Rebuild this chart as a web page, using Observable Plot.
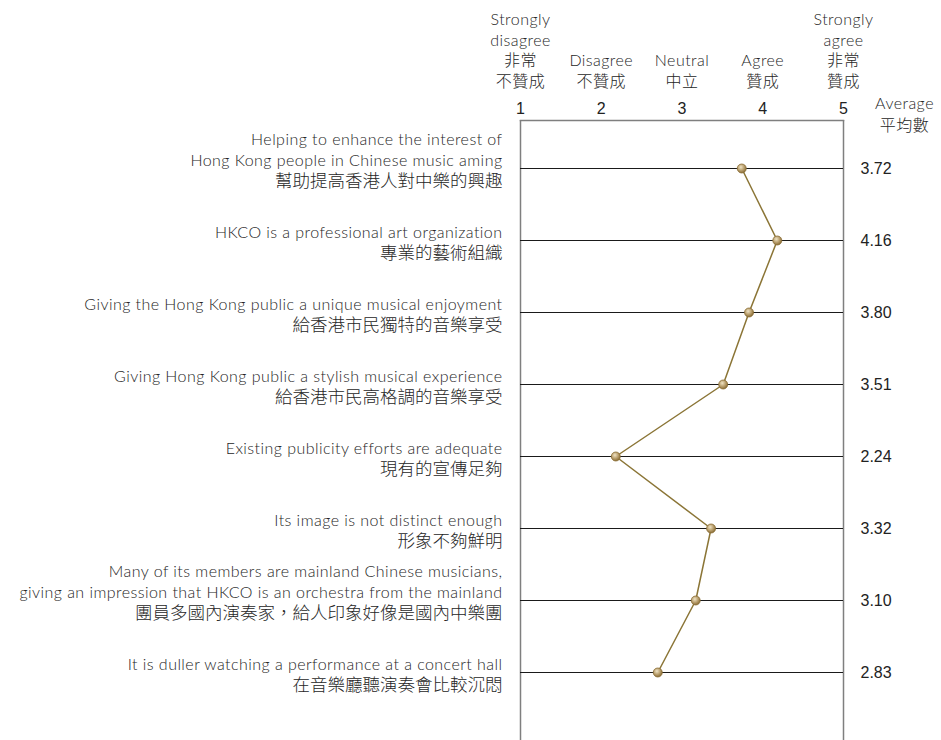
<!DOCTYPE html>
<html>
<head>
<meta charset="utf-8">
<script src="https://cdn.jsdelivr.net/npm/d3@7"></script>
<script src="https://cdn.jsdelivr.net/npm/@observablehq/plot@0.6"></script>
<style>
  html, body { margin: 0; padding: 0; background: #fff; }
  #chart svg { display: block; background: transparent; }
  #chart svg .en text, #chart svg text.en { letter-spacing: 0.45px; }
</style>
</head>
<body>
<div id="chart"></div>
<script>
// ---- data ----
const statementsEn = [
  "Helping to enhance the interest of\nHong Kong people in Chinese music aming",
  "HKCO is a professional art organization",
  "Giving the Hong Kong public a unique musical enjoyment",
  "Giving Hong Kong public a stylish musical experience",
  "Existing publicity efforts are adequate",
  "Its image is not distinct enough",
  "Many of its members are mainland Chinese musicians,\ngiving an impression that HKCO is an orchestra from the mainland",
  "It is duller watching a performance at a concert hall"
];
const statementsZh = [
  "幫助提高香港人對中樂的興趣",
  "專業的藝術組織",
  "給香港市民獨特的音樂享受",
  "給香港市民高格調的音樂享受",
  "現有的宣傳足夠",
  "形象不夠鮮明",
  "團員多國內演奏家，給人印象好像是國內中樂團",
  "在音樂廳聽演奏會比較沉悶"
];
// printed averages
const averages = [3.72, 4.16, 3.80, 3.51, 2.24, 3.32, 3.10, 2.83];
// where the markers sit on the 1–5 scale in the picture
const markerValues = [3.74, 4.18, 3.83, 3.51, 2.18, 3.36, 3.17, 2.70];

const scaleValues = [1, 2, 3, 4, 5];
const scaleEn = ["Strongly\ndisagree", "Disagree", "Neutral", "Agree", "Strongly\nagree"];
const scaleZh = ["非常\n不贊成", "不贊成", "中立", "贊成", "非常\n贊成"];
const averageEn = "Average";
const averageZh = "平均數";

// ---- tables built from the arrays ----
const rows = statementsEn.map((en, i) => ({ id: i, en, zh: statementsZh[i], avg: averages[i], pos: markerValues[i] }));
const header = scaleValues.map((v, i) => ({ v, label: scaleEn[i] + "\n" + scaleZh[i] }));

const enFont = "Lato, 'Noto Sans CJK TC', sans-serif";
const zhFont = "'Noto Sans CJK TC', 'Noto Sans CJK SC', sans-serif";
const numFont = "'Liberation Sans', Arial, sans-serif";
const textColor = "#262626";

const chart = Plot.plot({
  width: 941,
  height: 740,
  marginLeft: 520,
  marginRight: 98,
  marginTop: 120,
  marginBottom: 0,
  style: { background: "transparent", overflow: "visible" },
  x: { domain: [1, 5], axis: null },
  y: { type: "point", domain: rows.map(d => d.id), range: [167, 672], padding: 0, axis: null },
  marks: [
    // header scale labels (English + Chinese in one block)
    Plot.text(header, {
      x: "v", text: "label", frameAnchor: "top", lineAnchor: "bottom",
      dy: -34, lineHeight: 1.28, fontSize: 16, fontFamily: enFont, fontWeight: 300,
      fill: textColor, className: "en"
    }),
    // tick numbers
    Plot.text(scaleValues, {
      x: d => d, text: d => String(d), frameAnchor: "top", lineAnchor: "bottom",
      dy: -7, fontSize: 16, fontFamily: numFont, fontWeight: "normal", fill: "#222"
    }),
    // Average header
    Plot.text([averageEn + "\n" + averageZh], {
      frameAnchor: "top-right", text: d => d, dx: 61, dy: -8, lineAnchor: "middle",
      textAnchor: "middle", lineHeight: 1.38, fontSize: 16, fontFamily: enFont, fontWeight: 300,
      fill: textColor, className: "en"
    }),
    // frame
    Plot.frame({ anchor: "top", stroke: "#7f7f7f", strokeWidth: 1.5 }),
    Plot.ruleX([1, 5], { stroke: "#7f7f7f", strokeWidth: 1.5 }),
    // row lines
    Plot.ruleY(rows, { y: "id", x1: 1, x2: 5, stroke: "#1a1a1a", strokeWidth: 1 }),
    // statement labels
    Plot.text(rows, {
      x: 1, y: "id", text: "en", textAnchor: "end", lineAnchor: "bottom",
      dx: -18, dy: -3, lineHeight: 1.28, fontSize: 16, fontFamily: enFont,
      fontWeight: 300, fill: textColor, className: "en"
    }),
    Plot.text(rows, {
      x: 1, y: "id", text: "zh", textAnchor: "end", lineAnchor: "middle",
      dx: -18, dy: 13, fontSize: 17.5, fontFamily: zhFont,
      fontWeight: 300, fill: textColor
    }),
    // values
    Plot.text(rows, {
      x: 5, y: "id", text: d => d.avg.toFixed(2), textAnchor: "start", dx: 17,
      fontSize: 16, fontFamily: numFont, fontWeight: "normal", fill: "#222"
    }),
    // profile line
    Plot.line(rows, { x: "pos", y: "id", stroke: "#8b7536", strokeWidth: 1.5 }),
    Plot.dot(rows, { x: "pos", y: "id", r: 4.5, fill: "url(#goldBall)", stroke: "#8a6d35", strokeWidth: 0.8 })
  ]
});

// gradient for the ball markers
const defs = d3.select(chart).insert("defs", ":first-child");
const g = defs.append("radialGradient").attr("id", "goldBall")
  .attr("cx", "40%").attr("cy", "35%").attr("r", "65%");
g.append("stop").attr("offset", "0%").attr("stop-color", "#efe3c4");
g.append("stop").attr("offset", "55%").attr("stop-color", "#bba170");
g.append("stop").attr("offset", "100%").attr("stop-color", "#8a6d35");

document.getElementById("chart").appendChild(chart);
</script>
</body>
</html>
